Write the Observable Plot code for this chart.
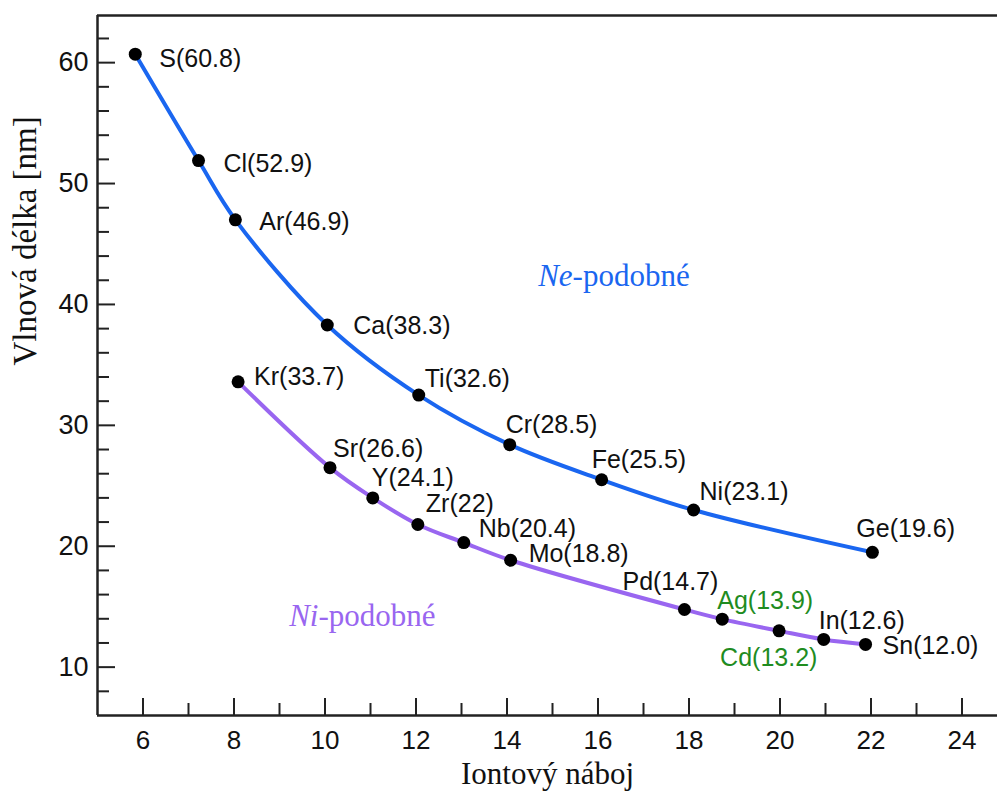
<!DOCTYPE html>
<html>
<head>
<meta charset="utf-8">
<script src="https://cdn.jsdelivr.net/npm/d3@7"></script>
<script src="https://cdn.jsdelivr.net/npm/@observablehq/plot@0.6"></script>
<style>
  html, body { margin: 0; padding: 0; background: #fff; }
  #chart svg { display: block; }
</style>
</head>
<body>
<div id="chart"></div>
<script>
// ---- Data ----
// Ne-like series
const neElements = ["S", "Cl", "Ar", "Ca", "Ti", "Cr", "Fe", "Ni", "Ge"];
const neCharge   = [5.83, 7.22, 8.03, 10.05, 12.06, 14.06, 16.08, 18.1, 22.03];
const neWave     = [60.7, 51.9, 47.0, 38.3, 32.5, 28.4, 25.5, 23.0, 19.5];
const neLabels   = ["S(60.8)", "Cl(52.9)", "Ar(46.9)", "Ca(38.3)", "Ti(32.6)", "Cr(28.5)", "Fe(25.5)", "Ni(23.1)", "Ge(19.6)"];

// Ni-like series
const niElements = ["Kr", "Sr", "Y", "Zr", "Nb", "Mo", "Pd", "Ag", "Cd", "In", "Sn"];
const niCharge   = [8.09, 10.11, 11.05, 12.04, 13.05, 14.08, 17.9, 18.73, 19.98, 20.96, 21.88];
const niWave     = [33.6, 26.5, 24.0, 21.8, 20.3, 18.84, 14.77, 13.97, 13.0, 12.29, 11.88];
const niLabels   = ["Kr(33.7)", "Sr(26.6)", "Y(24.1)", "Zr(22)", "Nb(20.4)", "Mo(18.8)", "Pd(14.7)", "Ag(13.9)", "Cd(13.2)", "In(12.6)", "Sn(12.0)"];

// Axis ticks
const xMajorTicks = [6, 8, 10, 12, 14, 16, 18, 20, 22, 24];
const xMinorTicks = [7, 9, 11, 13, 15, 17, 19, 21, 23];
const yMajorTicks = [10, 20, 30, 40, 50, 60];
const yMinorTicks = [8, 12, 14, 16, 18, 22, 24, 26, 28, 32, 34, 36, 38, 42, 44, 46, 48, 52, 54, 56, 58, 62];

// Series annotations
const seriesNames = ["Ne-podobné", "Ni-podobné"];
const seriesNameX = [16.35, 10.82];
const seriesNameY = [42.4, 14.3];

// ---- Styling / label placement (pixels) ----
const BLUE = "#1a66f0", PURPLE = "#9966f0", GREEN = "#1f8c1f";
const greenLabels = ["Ag", "Cd"];
const neOffsets = [[24, 4], [25, 2], [24, 1], [26, 0], [6, -17], [-4, -21], [-10, -21], [6, -19], [-16, -24]];
const niOffsets = [[16, -6], [3, -20], [-1, -21], [8, -21], [15, -15], [18, -7], [-62, -28], [-5, -19], [-59, 26], [-5, -19], [17, 1]];

// ---- Build tables ----
const ne = neElements.map((el, i) => ({el, x: neCharge[i], y: neWave[i], label: neLabels[i], dx: neOffsets[i][0], dy: neOffsets[i][1]}));
const ni = niElements.map((el, i) => ({el, x: niCharge[i], y: niWave[i], label: niLabels[i], dx: niOffsets[i][0], dy: niOffsets[i][1]}));
const names = seriesNames.map((t, i) => ({t, x: seriesNameX[i], y: seriesNameY[i], color: i === 0 ? BLUE : PURPLE}));

const labelMarks = (rows) => rows.map(d => Plot.text([d], {
  x: "x", y: "y", text: "label", dx: d.dx, dy: d.dy + 1,
  textAnchor: "start", lineAnchor: "middle",
  fontSize: 25, fill: greenLabels.includes(d.el) ? GREEN : "#111"
}));

const AX = "#222";
const SERIF = "'Liberation Serif', 'Times New Roman', serif";
const plot = Plot.plot({
  width: 997,
  height: 792,
  marginLeft: 97,
  marginRight: 0,
  marginTop: 15,
  marginBottom: 77,
  x: {domain: [5, 24.78]},
  y: {domain: [6, 63.9]},
  style: {fontFamily: "'Liberation Sans', Arial, sans-serif", background: "#fff", color: "#111"},
  marks: [
    // frame lines
    Plot.ruleX([5], {stroke: AX, strokeWidth: 2.5}),
    Plot.ruleY([6], {stroke: AX, strokeWidth: 2.5}),
    Plot.ruleY([63.9], {stroke: AX, strokeWidth: 2.5}),
    // axes (ticks pointing inwards)
    Plot.axisX(xMajorTicks, {tickSize: -17, tickFormat: () => "", label: null, stroke: AX, strokeWidth: 2}),
    Plot.axisX(xMinorTicks, {tickSize: -12, tickFormat: () => "", label: null, stroke: AX, strokeWidth: 2}),
    Plot.axisX(xMajorTicks, {tickSize: 0, tickPadding: 15, fontSize: 26, label: null, fill: "#111"}),
    Plot.axisY(yMajorTicks, {tickSize: -18, tickFormat: () => "", label: null, stroke: AX, strokeWidth: 2}),
    Plot.axisY(yMinorTicks, {tickSize: -12, tickFormat: () => "", label: null, stroke: AX, strokeWidth: 2}),
    Plot.axisY(yMajorTicks, {tickSize: 0, tickPadding: 9, fontSize: 27, label: null, fill: "#111"}),
    // axis titles
    Plot.text(["Iontový náboj"], {frameAnchor: "bottom", dy: 59, lineAnchor: "middle", fontSize: 31, fontFamily: SERIF, fill: "#111"}),
    Plot.text(["Vlnová délka [nm]"], {frameAnchor: "left", dx: -72, rotate: -90, lineAnchor: "middle", fontSize: 33, fontFamily: SERIF, fill: "#111"}),
    // series lines
    Plot.line(ne, {x: "x", y: "y", stroke: BLUE, strokeWidth: 4, curve: "catmull-rom"}),
    Plot.line(ni, {x: "x", y: "y", stroke: PURPLE, strokeWidth: 4, curve: "catmull-rom"}),
    // points
    Plot.dot(ne, {x: "x", y: "y", r: 6.5, fill: "#000", stroke: "none"}),
    Plot.dot(ni, {x: "x", y: "y", r: 6.5, fill: "#000", stroke: "none"}),
    // point labels
    ...labelMarks(ne),
    ...labelMarks(ni),
    // series names
    Plot.text(names, {x: "x", y: "y", text: "t", fill: "color", fontSize: 31, lineAnchor: "middle", dy: 1, fontFamily: SERIF})
  ]
});

// italicize the element prefix in series names
d3.select(plot).selectAll("text").each(function () {
  const t = this.textContent;
  if (t === "Ne-podobné" || t === "Ni-podobné") {
    const sel = d3.select(this);
    sel.text(null);
    sel.append("tspan").attr("font-style", "italic").text(t.slice(0, 2));
    sel.append("tspan").text(t.slice(2));
  }
});

document.getElementById("chart").appendChild(plot);
</script>
</body>
</html>
